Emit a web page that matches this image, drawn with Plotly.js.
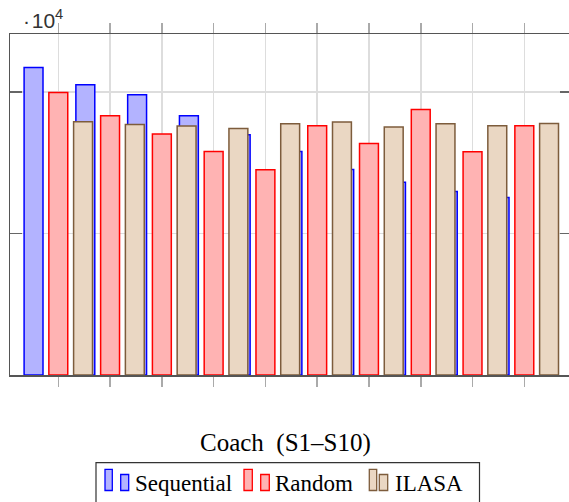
<!DOCTYPE html>
<html>
<head>
<meta charset="utf-8">
<script src="https://cdn.plot.ly/plotly-3.0.1.min.js"></script>
<style>
html, body { margin: 0; padding: 0; overflow: hidden; background: #fff; }
#chart { width: 580px; height: 502px; }
</style>
</head>
<body>
<div id="chart"></div>
<script>
// ---- data ----
const categories = ["S1", "S2", "S3", "S4", "S5", "S6", "S7", "S8", "S9", "S10"];
const sequential = [21720, 20490, 19790, 18300, 16960, 15780, 14510, 13620, 12950, 12530];
const random     = [19950, 18300, 17010, 15780, 14490, 17600, 16350, 18750, 15760, 17600];
const ilasa      = [17880, 17690, 17580, 17410, 17740, 17860, 17510, 17740, 17600, 17760];
const seriesNames = ["Sequential", "Random", "ILASA"];
const titleText = "Coach\u2002(S1\u2013S10)";
const yTicks = [0, 10000, 20000];

// ---- geometry (pixels) ----
const W = 580, H = 502;
const ML = 10, MR = 8, MT = 34, MB = 127;
const plotW = W - ML - MR, plotH = H - MT - MB;
const px = v => (v - ML) / plotW;          // pixel x -> paper x
const py = v => (H - MB - v) / plotH;      // pixel y -> paper y

const xpos = categories.map((c, i) => i + 1);
const barW = 0.365;
const shift = 0.478;

const styles = [
  {fill: "#b3b3ff", line: "#0000ff"},
  {fill: "#ffb3b3", line: "#ff0000"},
  {fill: "#ead7c3", line: "#7d5c3c"}
];

const seriesVals = [sequential, random, ilasa];
const offs = [-shift - barW / 2, -barW / 2, shift - barW / 2];

const traces = seriesVals.map((vals, k) => ({
  type: "bar",
  name: seriesNames[k],
  x: xpos,
  y: vals,
  text: categories,
  hoverinfo: "name+text+y",
  textposition: "none",
  width: barW,
  offset: offs[k],
  marker: {color: styles[k].fill, line: {color: styles[k].line, width: 1.5}},
  showlegend: false
}));

// ---- custom legend (pgfplots style, two small bars per entry) ----
const shapes = [];
const annotations = [];
shapes.push({type: "rect", xref: "paper", yref: "paper",
  x0: px(96), x1: px(479.5), y0: py(462.7), y1: py(515),
  line: {color: "#333", width: 1.2}, fillcolor: "rgba(255,255,255,0)"});

const legendItems = [
  {k: 0, tall: [105, 112.3], short: [120.7, 128.7], tx: 133},
  {k: 1, tall: [244, 252.3], short: [260.7, 269.3], tx: 273},
  {k: 2, tall: [369.3, 376.7], short: [379.3, 387.7], tx: 393}
];
legendItems.forEach(it => {
  const s = styles[it.k];
  shapes.push({type: "rect", xref: "paper", yref: "paper",
    x0: px(it.tall[0]), x1: px(it.tall[1]), y0: py(490.5), y1: py(469.3),
    line: {color: s.line, width: 1.3}, fillcolor: s.fill});
  shapes.push({type: "rect", xref: "paper", yref: "paper",
    x0: px(it.short[0]), x1: px(it.short[1]), y0: py(490.5), y1: py(474.5),
    line: {color: s.line, width: 1.3}, fillcolor: s.fill});
  annotations.push({xref: "paper", yref: "paper", x: px(it.tx), y: py(483),
    xanchor: "left", yanchor: "middle", showarrow: false,
    text: seriesNames[it.k],
    font: {family: "Liberation Serif", size: 23, color: "#000"}});
});

// axis title (xlabel)
annotations.push({xref: "paper", yref: "paper", x: px(285), y: py(443),
  xanchor: "center", yanchor: "middle", showarrow: false, text: titleText,
  font: {family: "Liberation Serif", size: 25, color: "#000"}});

// y multiplier
annotations.push({xref: "paper", yref: "paper", x: px(21), y: py(19),
  xanchor: "left", yanchor: "middle", showarrow: false,
  text: "\u00b7\u200a10<sup>4</sup>",
  font: {family: "Liberation Sans", size: 21, color: "#333"}});

const layout = {
  width: W, height: H,
  margin: {l: ML, r: MR, t: MT, b: MB, pad: 0},
  paper_bgcolor: "#fff", plot_bgcolor: "#fff",
  barmode: "overlay",
  showlegend: false,
  xaxis: {
    type: "linear", range: [0.0672, 10.921],
    tickvals: xpos, showticklabels: false,
    showgrid: true, gridcolor: "#dddddd", gridwidth: 1.5,
    ticks: "outside", ticklen: 10, tickwidth: 1.5, tickcolor: "#aaaaaa",
    showline: true, linecolor: "#555", linewidth: 1.5, mirror: "ticks",
    zeroline: false, fixedrange: true
  },
  yaxis: {
    range: [0, 24080], tickvals: yTicks, showticklabels: false,
    showgrid: true, gridcolor: "#dddddd", gridwidth: 1.5,
    ticks: "inside", ticklen: 12, tickwidth: 1.5, tickcolor: "#666",
    showline: true, linecolor: "#555", linewidth: 1.5, mirror: "ticks",
    zeroline: false, fixedrange: true
  },
  shapes: shapes,
  annotations: annotations
};

Plotly.newPlot("chart", traces, layout, {displayModeBar: false, staticPlot: true});
</script>
</body>
</html>
